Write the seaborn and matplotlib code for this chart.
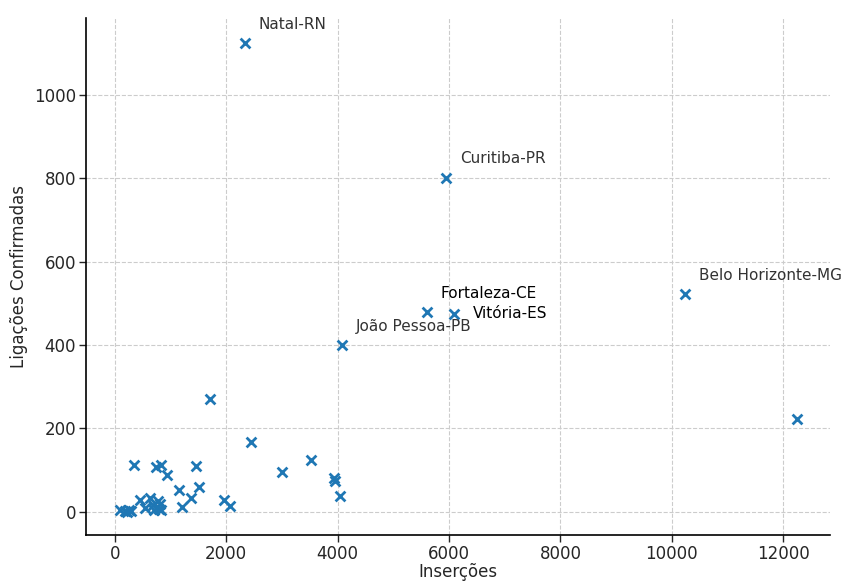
import pandas as pd
import seaborn as sns
from matplotlib import pyplot as plt

# pontos (inserções x ligações confirmadas)
insercoes = [2334, 5942, 5601, 6086, 4075, 10233, 12244,
             1718, 2447, 354, 749, 826, 946, 1467, 1149, 1514, 1377, 1213,
             2998, 3519, 3937, 3962, 4039, 1969, 2077,
             90, 180, 220, 250, 300, 449, 540, 628, 680, 700, 778, 800, 820, 830]
ligacoes = [1124, 802, 480, 475, 401, 523, 222,
            270, 167, 113, 107, 113, 88, 110, 52, 60, 32, 12,
            95, 124, 82, 74, 38, 27, 13,
            4, 2, 0, 4, 1, 27, 8, 34, 15, 3, 25, 7, 18, 3]

rotulos = ["Natal-RN", "Curitiba-PR", "Fortaleza-CE", "Vitória-ES",
           "João Pessoa-PB", "Belo Horizonte-MG"]

df = pd.DataFrame({"Inserções": insercoes, "Ligações Confirmadas": ligacoes})

sns.set_style("whitegrid", {"grid.linestyle": "--", "grid.color": "#cccccc",
                            "axes.edgecolor": "black"})

fig = plt.figure(figsize=(8.41, 5.82), dpi=100)
ax = fig.add_axes([0.102, 0.08, 0.885, 0.889])

sns.scatterplot(data=df, x="Inserções", y="Ligações Confirmadas", marker="x",
                color="#1f77b4", s=50, linewidth=2, ax=ax)

for i, nome in enumerate(rotulos):
    if nome == "Vitória-ES":
        ax.annotate(nome, (insercoes[i], ligacoes[i]), xytext=(14, 0),
                    textcoords="offset points", ha="left", va="center",
                    fontsize=11, color="black")
    elif nome == "Fortaleza-CE":
        ax.annotate(nome, (insercoes[i], ligacoes[i]), xytext=(10, 8),
                    textcoords="offset points", ha="left", va="bottom",
                    fontsize=11, color="black")
    else:
        ax.annotate(nome, (insercoes[i], ligacoes[i]), xytext=(10, 8),
                    textcoords="offset points", ha="left", va="bottom",
                    fontsize=11, color="#333333")

ax.set_xlim(-520, 12840)
ax.set_ylim(-57, 1185)
ax.set_xticks(range(0, 12001, 2000))
ax.set_yticks(range(0, 1001, 200))
ax.tick_params(axis="both", labelsize=12, length=5, width=1, direction="out",
               left=True, bottom=True, pad=2)
ax.set_xlabel("Inserções", fontsize=12, labelpad=0)
ax.set_ylabel("Ligações Confirmadas", fontsize=12)
sns.despine(ax=ax)
for s in ["left", "bottom"]:
    ax.spines[s].set_linewidth(1.2)

plt.savefig("out.png", dpi=100)
